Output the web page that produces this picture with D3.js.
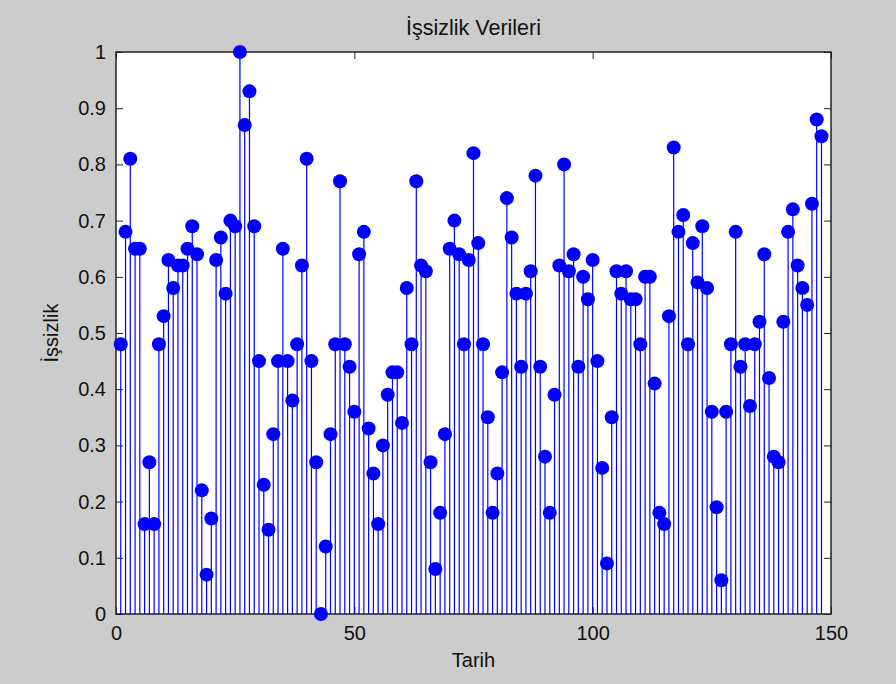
<!DOCTYPE html>
<html>
<head>
<meta charset="utf-8">
<script src="https://cdn.jsdelivr.net/npm/d3@7"></script>
<style>
  html, body { margin: 0; padding: 0; background: #cccccc; }
  svg { display: block; }
  text { font-family: "Liberation Sans", Arial, Helvetica, sans-serif; fill: #111; }
</style>
</head>
<body>
<svg id="chart" width="896" height="684"></svg>
<script>
// İşsizlik oranı, her tarih dönemi için (1..148)
const issizlik = [
  0.48, 0.68, 0.81, 0.65, 0.65, 0.16, 0.27, 0.16, 0.48, 0.53,
  0.63, 0.58, 0.62, 0.62, 0.65, 0.69, 0.64, 0.22, 0.07, 0.17,
  0.63, 0.67, 0.57, 0.70, 0.69, 1.00, 0.87, 0.93, 0.69, 0.45,
  0.23, 0.15, 0.32, 0.45, 0.65, 0.45, 0.38, 0.48, 0.62, 0.81,
  0.45, 0.27, 0.00, 0.12, 0.32, 0.48, 0.77, 0.48, 0.44, 0.36,
  0.64, 0.68, 0.33, 0.25, 0.16, 0.30, 0.39, 0.43, 0.43, 0.34,
  0.58, 0.48, 0.77, 0.62, 0.61, 0.27, 0.08, 0.18, 0.32, 0.65,
  0.70, 0.64, 0.48, 0.63, 0.82, 0.66, 0.48, 0.35, 0.18, 0.25,
  0.43, 0.74, 0.67, 0.57, 0.44, 0.57, 0.61, 0.78, 0.44, 0.28,
  0.18, 0.39, 0.62, 0.80, 0.61, 0.64, 0.44, 0.60, 0.56, 0.63,
  0.45, 0.26, 0.09, 0.35, 0.61, 0.57, 0.61, 0.56, 0.56, 0.48,
  0.60, 0.60, 0.41, 0.18, 0.16, 0.53, 0.83, 0.68, 0.71, 0.48,
  0.66, 0.59, 0.69, 0.58, 0.36, 0.19, 0.06, 0.36, 0.48, 0.68,
  0.44, 0.48, 0.37, 0.48, 0.52, 0.64, 0.42, 0.28, 0.27, 0.52,
  0.68, 0.72, 0.62, 0.58, 0.55, 0.73, 0.88, 0.85
];

const xTicks = [0, 50, 100, 150];
const yTicks = [0, 0.1, 0.2, 0.3, 0.4, 0.5, 0.6, 0.7, 0.8, 0.9, 1];

const baslik = "İşsizlik Verileri";
const xEtiket = "Tarih";
const yEtiket = "İşsizlik";

const svg = d3.select("#chart");
const plotLeft = 116, plotRight = 831, plotTop = 52, plotBottom = 614;

const x = d3.scaleLinear().domain([0, 150]).range([plotLeft, plotRight]);
const y = d3.scaleLinear().domain([0, 1]).range([plotBottom, plotTop]);

// Axes background
svg.append("rect")
  .attr("x", plotLeft).attr("y", plotTop)
  .attr("width", plotRight - plotLeft).attr("height", plotBottom - plotTop)
  .attr("fill", "#ffffff");

const tickLen = 7;
const fmtY = d => (d === 0 || d === 1) ? String(d) : d3.format(".1f")(d);

const gx = svg.append("g").attr("transform", `translate(0,${plotBottom})`)
  .call(d3.axisBottom(x).tickValues(xTicks).tickSizeInner(-tickLen).tickSizeOuter(0).tickPadding(12));
const gxTop = svg.append("g").attr("transform", `translate(0,${plotTop})`)
  .call(d3.axisTop(x).tickValues(xTicks).tickSizeInner(-tickLen).tickSizeOuter(0).tickFormat(""));
const gy = svg.append("g").attr("transform", `translate(${plotLeft},0)`)
  .call(d3.axisLeft(y).tickValues(yTicks).tickSizeInner(-tickLen).tickSizeOuter(0).tickPadding(10).tickFormat(fmtY));
const gyRight = svg.append("g").attr("transform", `translate(${plotRight},0)`)
  .call(d3.axisRight(y).tickValues(yTicks).tickSizeInner(-tickLen).tickSizeOuter(0).tickFormat(""));

[gx, gxTop, gy, gyRight].forEach(g => {
  g.select(".domain").remove();
  g.selectAll(".tick line").attr("stroke", "#222").attr("stroke-width", 1);
  g.selectAll(".tick text").attr("font-size", 20).attr("fill", "#111")
    .attr("font-family", "'Liberation Sans', Arial, sans-serif");
});

svg.append("rect")
  .attr("x", plotLeft).attr("y", plotTop)
  .attr("width", plotRight - plotLeft).attr("height", plotBottom - plotTop)
  .attr("fill", "none").attr("stroke", "#222").attr("stroke-width", 1.5);

// Stems
const data = issizlik.map((v, i) => ({ t: i + 1, v }));

svg.append("g").selectAll("line")
  .data(data).join("line")
  .attr("x1", d => x(d.t)).attr("x2", d => x(d.t))
  .attr("y1", y(0)).attr("y2", d => y(d.v))
  .attr("stroke", "#0000ff").attr("stroke-width", 1.2);

// Markers
svg.append("g").selectAll("circle")
  .data(data).join("circle")
  .attr("cx", d => x(d.t)).attr("cy", d => y(d.v))
  .attr("r", 7).attr("fill", "#0000ff");

// Titles
svg.append("text").attr("x", (plotLeft + plotRight) / 2).attr("y", 35)
  .attr("text-anchor", "middle").attr("font-size", 21.5).text(baslik);
svg.append("text").attr("x", (plotLeft + plotRight) / 2).attr("y", 667)
  .attr("text-anchor", "middle").attr("font-size", 20).text(xEtiket);
svg.append("text").attr("transform", `translate(58,${(plotTop + plotBottom) / 2}) rotate(-90)`)
  .attr("text-anchor", "middle").attr("font-size", 20).text(yEtiket);
</script>
</body>
</html>
